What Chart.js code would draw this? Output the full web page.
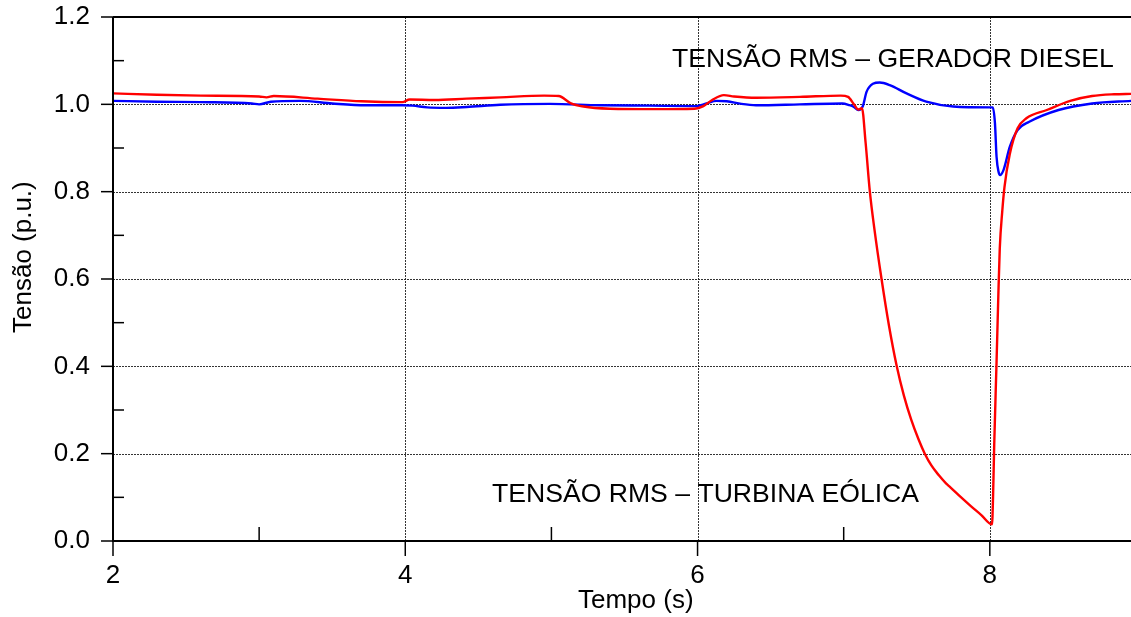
<!DOCTYPE html>
<html lang="pt">
<head>
<meta charset="utf-8">
<title>Tensão RMS</title>
<script src="https://cdn.jsdelivr.net/npm/chart.js@4/dist/chart.umd.min.js"></script>
<style>
  html, body { margin: 0; padding: 0; background: #fff; overflow: hidden; }
  #wrap { position: relative; width: 1131px; height: 617px; }
</style>
</head>
<body>
<div id="wrap"><canvas id="grafico"></canvas></div>
<script>
// Tensão RMS da turbina eólica (p.u.) ao longo do tempo (s)
const tempoTurbina = [2.00, 2.30, 2.60, 3.00, 3.05, 3.10, 3.40, 3.70, 3.98, 4.03, 4.20, 4.42, 4.65, 4.95, 5.05, 5.13, 5.22, 5.40, 5.70, 5.98, 6.04, 6.10, 6.18, 6.25, 6.40, 6.70, 6.98, 7.03, 7.07, 7.10, 7.125, 7.15, 7.179, 7.21, 7.259, 7.31, 7.362, 7.412, 7.462, 7.512, 7.555, 7.60, 7.65, 7.70, 7.73, 7.80, 7.87, 7.94, 8.015, 8.022, 8.03, 8.046, 8.058, 8.068, 8.085, 8.10, 8.136, 8.19, 8.25, 8.39, 8.55, 8.70, 8.85, 8.97];
const tensaoTurbina = [1.025, 1.022, 1.020, 1.018, 1.016, 1.019, 1.013, 1.007, 1.005, 1.011, 1.010, 1.013, 1.016, 1.020, 1.019, 1.003, 0.995, 0.990, 0.989, 0.990, 0.996, 1.010, 1.021, 1.018, 1.015, 1.017, 1.020, 1.017, 1.000, 0.988, 0.991, 0.912, 0.800, 0.715, 0.600, 0.493, 0.402, 0.333, 0.278, 0.233, 0.200, 0.173, 0.151, 0.132, 0.123, 0.101, 0.080, 0.060, 0.038, 0.100, 0.220, 0.410, 0.560, 0.670, 0.755, 0.810, 0.885, 0.945, 0.968, 0.987, 1.008, 1.019, 1.023, 1.024];

// Tensão RMS do gerador diesel (p.u.) ao longo do tempo (s)
const tempoDiesel = [2.00, 2.30, 2.60, 2.95, 3.00, 3.08, 3.28, 3.50, 3.73, 3.98, 4.05, 4.15, 4.28, 4.42, 4.65, 4.99, 5.33, 5.67, 5.99, 6.06, 6.13, 6.20, 6.30, 6.40, 6.70, 6.99, 7.04, 7.07, 7.10, 7.13, 7.157, 7.20, 7.247, 7.315, 7.43, 7.565, 7.75, 8.00, 8.02, 8.035, 8.046, 8.06, 8.07, 8.094, 8.137, 8.19, 8.27, 8.47, 8.70, 8.97];
const tensaoDiesel = [1.008, 1.006, 1.005, 1.002, 1.000, 1.006, 1.008, 1.002, 0.998, 0.998, 0.997, 0.993, 0.992, 0.994, 0.999, 1.001, 0.998, 0.997, 0.996, 1.002, 1.008, 1.007, 1.001, 0.998, 1.000, 1.002, 0.998, 0.994, 0.987, 0.995, 1.029, 1.047, 1.050, 1.044, 1.025, 1.006, 0.995, 0.993, 0.993, 0.957, 0.880, 0.845, 0.838, 0.850, 0.903, 0.941, 0.960, 0.987, 1.002, 1.008];

// Marcas dos eixos
const ticksTempo = [2, 4, 6, 8];
const ticksTempoMenores = [3, 5, 7];
const ticksTensao = [0.0, 0.2, 0.4, 0.6, 0.8, 1.0, 1.2];
const ticksTensaoMenores = [0.1, 0.3, 0.5, 0.7, 0.9, 1.1];
const gradeTempo = [4, 6, 8];
const gradeTensao = [0.2, 0.4, 0.6, 0.8, 1.0];

const FONTE = '"Liberation Sans", Arial, Helvetica, sans-serif';

function pares(xs, ys) {
  return xs.map((x, i) => ({ x: x, y: ys[i] }));
}

function semFolga(s) {
  s.paddingTop = 0; s.paddingBottom = 0; s.paddingLeft = 0; s.paddingRight = 0;
}

// Grade pontilhada, eixos, marcas e textos
const moldura = {
  id: 'moldura',
  beforeDatasetsDraw(chart) {
    const { ctx, chartArea: a, scales: { x, y } } = chart;
    ctx.save();
    ctx.strokeStyle = 'rgba(30,30,30,0.9)';
    ctx.lineWidth = 1;
    ctx.setLineDash([2, 1]);
    gradeTensao.forEach(v => {
      const py = Math.round(y.getPixelForValue(v)) + 0.5;
      ctx.beginPath(); ctx.moveTo(a.left, py); ctx.lineTo(a.right, py); ctx.stroke();
    });
    gradeTempo.forEach(v => {
      const px = Math.round(x.getPixelForValue(v)) + 0.5;
      ctx.beginPath(); ctx.moveTo(px, a.top); ctx.lineTo(px, a.bottom); ctx.stroke();
    });
    ctx.restore();
  },
  afterDatasetsDraw(chart) {
    const { ctx, chartArea: a, scales: { x, y } } = chart;
    ctx.save();
    ctx.strokeStyle = '#000';
    ctx.setLineDash([]);
    // eixos e borda superior
    ctx.lineWidth = 2;
    ctx.beginPath();
    ctx.moveTo(a.left, a.top); ctx.lineTo(a.left, a.bottom); ctx.lineTo(a.right, a.bottom);
    ctx.stroke();
    ctx.beginPath(); ctx.moveTo(a.left, a.top); ctx.lineTo(a.right, a.top); ctx.stroke();
    ctx.lineWidth = 1.5;
    // marcas principais do eixo y (para fora)
    ticksTensao.forEach(v => {
      const py = y.getPixelForValue(v);
      ctx.beginPath(); ctx.moveTo(a.left - 12, py); ctx.lineTo(a.left, py); ctx.stroke();
    });
    // marcas menores do eixo y (para dentro)
    ticksTensaoMenores.forEach(v => {
      const py = y.getPixelForValue(v);
      ctx.beginPath(); ctx.moveTo(a.left, py); ctx.lineTo(a.left + 11, py); ctx.stroke();
    });
    // marcas principais do eixo x (para baixo)
    ticksTempo.forEach(v => {
      const px = x.getPixelForValue(v);
      ctx.beginPath(); ctx.moveTo(px, a.bottom); ctx.lineTo(px, a.bottom + 15); ctx.stroke();
    });
    // marcas menores do eixo x (para cima)
    ticksTempoMenores.forEach(v => {
      const px = x.getPixelForValue(v);
      ctx.beginPath(); ctx.moveTo(px, a.bottom - 14); ctx.lineTo(px, a.bottom); ctx.stroke();
    });
    ctx.restore();
  },
  afterDraw(chart) {
    const { ctx } = chart;
    ctx.save();
    ctx.fillStyle = '#000';
    ctx.textBaseline = 'alphabetic';
    ctx.textAlign = 'left';
    ctx.font = '26.6px ' + FONTE;
    ctx.fillText('TENSÃO RMS – GERADOR DIESEL', 672, 67);
    ctx.fillText('TENSÃO RMS – TURBINA EÓLICA', 492, 502);
    ctx.font = '26px ' + FONTE;
    ctx.fillText('Tempo (s)', 578, 608);
    ctx.translate(31, 333);
    ctx.rotate(-Math.PI / 2);
    ctx.fillText('Tensão (p.u.)', 0, 0);
    ctx.restore();
  }
};

new Chart(document.getElementById('grafico'), {
  type: 'line',
  data: {
    datasets: [
      {
        label: 'Tensão RMS – Turbina Eólica',
        data: pares(tempoTurbina, tensaoTurbina),
        borderColor: '#ff0000',
        borderWidth: 2.4,
        pointRadius: 0,
        cubicInterpolationMode: 'monotone',
        fill: false
      },
      {
        label: 'Tensão RMS – Gerador Diesel',
        data: pares(tempoDiesel, tensaoDiesel),
        borderColor: '#0000ff',
        borderWidth: 2.4,
        pointRadius: 0,
        cubicInterpolationMode: 'monotone',
        fill: false
      }
    ]
  },
  options: {
    responsive: true,
    maintainAspectRatio: false,
    animation: false,
    devicePixelRatio: 1,
    layout: { padding: { top: 17, right: 0, left: 0, bottom: 0 } },
    plugins: { legend: { display: false }, tooltip: { enabled: false } },
    scales: {
      x: {
        type: 'linear',
        min: 2,
        max: 8.966,
        grid: { display: false, drawTicks: false },
        border: { display: false },
        afterBuildTicks(s) { s.ticks = ticksTempo.map(v => ({ value: v })); },
        afterFit(s) { s.height = 76; semFolga(s); },
        ticks: {
          padding: 19,
          color: '#000',
          font: { size: 26, family: FONTE },
          maxRotation: 0,
          callback: v => String(v)
        }
      },
      y: {
        type: 'linear',
        min: 0,
        max: 1.2,
        grid: { display: false, drawTicks: false },
        border: { display: false },
        afterBuildTicks(s) { s.ticks = ticksTensao.map(v => ({ value: v })); },
        afterFit(s) { s.width = 113; semFolga(s); },
        ticks: {
          padding: 23,
          color: '#000',
          font: { size: 26, family: FONTE },
          callback: v => Number(v).toFixed(1)
        }
      }
    }
  },
  plugins: [moldura]
});
</script>
</body>
</html>
